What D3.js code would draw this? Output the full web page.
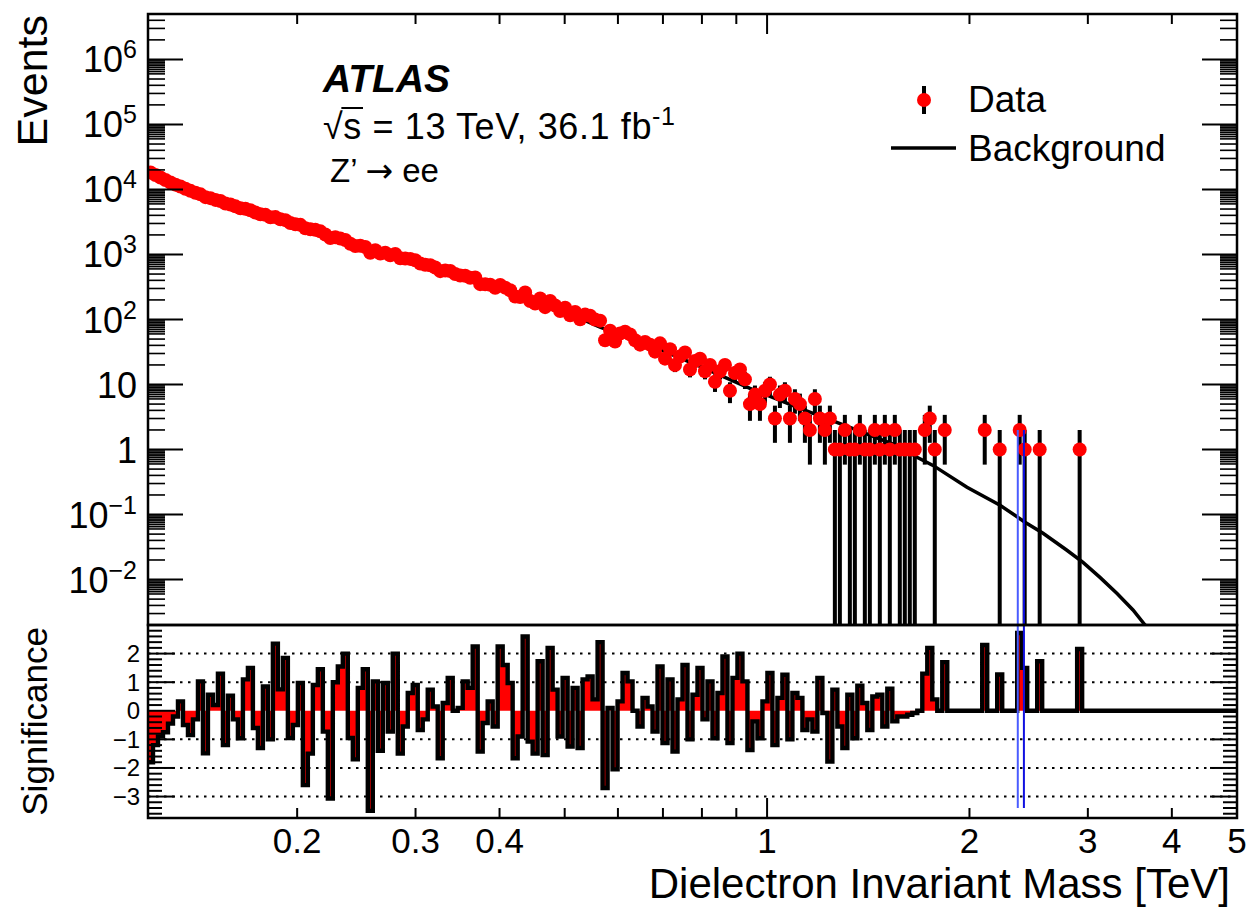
<!DOCTYPE html>
<html>
<head>
<meta charset="utf-8">
<script src="https://cdn.jsdelivr.net/npm/d3@7"></script>
<style>
  body { margin: 0; background: #fff; }
  svg text { font-family: "Liberation Sans", Arial, Helvetica, sans-serif; fill: #000; }
</style>
</head>
<body>
<svg id="chart" width="1250" height="908"></svg>
<script>
// binning: log-uniform bins between the axis limits
const massRangeTeV = [0.12, 5];
const nBins = 218;

// observed events per bin (bin 0 upwards, empty bins beyond the list)
const dataCounts = [
  18206, 16714, 15308, 14001, 12829, 11868, 11105, 10249, 9517, 8902,
  8414, 7619, 7348, 6917, 6635, 6076, 5870, 5498, 5151, 5032,
  4803, 4420, 4150, 4074, 3748, 3756, 3479, 3371, 3052, 2923,
  2856, 2536, 2435, 2394, 2268, 2027, 1795, 1842, 1754, 1670,
  1463, 1351, 1359, 1306, 1065, 1160, 1034, 1066, 972, 1017,
  873, 864, 856, 815, 728, 697, 684, 632, 554, 567,
  556, 501, 475, 470, 439, 444, 350, 349, 343, 308,
  339, 309, 282, 225, 222, 261, 193, 176, 210, 155,
  193, 164, 135, 152, 116, 131, 101, 119, 114, 100,
  96, 48, 67, 46, 61, 65, 59, 48, 41, 45,
  41, 32, 43, 25, 35, 20, 27, 31, 17, 23,
  25, 16, 20, 11, 16, 20, 8, 15, 17, 12,
  5, 7, 5, 8, 10, 3, 7, 8, 3, 6,
  5, 3, 2, 6, 3, 2, 3, 1, 1, 2,
  1, 1, 2, 1, 1, 2, 1, 2, 1, 2,
  1, 1, 1, 1, 0, 2, 3, 1, 0, 2,
  0, 0, 0, 0, 0, 0, 0, 2, 0, 0,
  1, 0, 0, 0, 2, 1, 0, 0, 1, 0,
  0, 0, 0, 0, 0, 0, 1
];

// background expectation
const bkgMassTeV = [0.12, 0.1434, 0.1702, 0.2020, 0.2397, 0.2845, 0.3376, 0.4007, 0.4755, 0.5643,
  0.6696, 0.7947, 0.9431, 1.1192, 1.3282, 1.5762, 1.6711, 1.7652, 1.9831, 2.2210,
  2.4193, 2.5733, 2.7924, 2.9508, 3.1272, 3.3156, 3.5016, 3.6492, 3.842];
const bkgEvents = [19000, 8300, 4730, 2820, 1510, 912, 530, 300, 166, 76,
  40, 19, 8.7, 4.3, 2.2, 1.1, 0.76, 0.57, 0.263, 0.139,
  0.076, 0.0515, 0.0282, 0.0184, 0.0108, 0.0061, 0.0034, 0.0020, 0.0011];

// significance per bin
const significance = [
  -1.8, -1.2, -0.9, -0.75, -0.45, -0.2, 0.33, -0.5, -0.85, -0.3,
  1.03, -1.49, 0.56, 0.2, 1.3, -1.2, 0.53, -0.3, -0.96, 1.1,
  1.5, -0.6, -1.3, 0.85, -1.0, 2.35, 0.75, 1.85, -0.95, -0.5,
  0.97, -2.6, -1.5, 0.9, 1.45, -0.73, -3.07, 1.0, 1.55, 2.0,
  -0.95, -1.7, 0.8, 1.45, -3.5, 1.03, -1.4, 0.97, -0.73, 2.0,
  -1.5, -0.55, 0.62, 0.9, -0.67, -0.3, 0.74, 0.15, -1.66, 0.27,
  1.15, 0, 0.1, 1.03, 0.8, 2.25, -1.43, -0.43, 0.33, -0.55,
  2.25, 1.6, 0.97, -1.66, -0.9, 2.6, -1.08, -1.5, 1.73, -1.55,
  2.2, 0.74, -0.9, 1.15, -1.25, 0.8, -1.3, 1.1, 1.2, 0.4,
  2.4, -2.7, 0.1, -2.05, 0.33, 1.32, 1.03, 0, -0.55, 0.45,
  0.15, -0.73, 1.55, -1.13, 1.1, -1.43, 0.4, 1.6, -1.0, 0.56,
  1.5, -0.3, 1.03, -0.96, 0.62, 1.9, -1.13, 1.15, 2.0, 1.03,
  -1.37, -0.37, -0.96, 0.33, 1.32, -1.2, 0.45, 1.26, -1.0, 0.62,
  0.45, -0.67, -0.3, -0.73, 1.15, -0.08, -1.78, 0.74, -0.55, -1.3,
  0.56, -0.96, 0.88, 0.27, -0.67, 0.5, 0.56, -0.55, 0.77, -0.37,
  -0.2, -0.2, -0.14, -0.08, 0, 1.3, 2.2, 0.4, 0, 1.7,
  0, 0, 0, 0, 0, 0, 0, 2.3, 0, 0,
  1.27, 0, 0, 0, 2.72, 1.5, 0, 0, 1.73, 0,
  0, 0, 0, 0, 0, 0, 2.16, 0, 0, 0,
  0, 0, 0, 0, 0, 0, 0, 0, 0, 0,
  0, 0, 0, 0, 0, 0, 0, 0, 0, 0,
  0, 0, 0, 0, 0, 0, 0, 0
];

// marked mass window (TeV) and how far it reaches
const windowTeV = [2.36, 2.41];
const windowTopEvents = 2;
const windowBottomSig = -3.4;

const xTickValues = [0.2, 0.3, 0.4, 0.5, 0.6, 0.7, 0.8, 0.9, 1, 2, 3, 4, 5];
const xTickLabels = { 0.2: "0.2", 0.3: "0.3", 0.4: "0.4", 1: "1", 2: "2", 3: "3", 4: "4", 5: "5" };
const yExponents = [-2, -1, 0, 1, 2, 3, 4, 5, 6];
const yMinorMantissas = [2, 3, 4, 5, 6, 6.5, 7, 7.5, 8, 8.5, 9, 9.5];
const sigTickValues = [-3, -2, -1, 0, 1, 2];
const sigGridValues = [-3, -2, -1, 1, 2];

const frame = { left: 148, right: 1237, top: 14, mid: 625, bottom: 818 };

const svg = d3.select("#chart");

const x = d3.scaleLog().domain(massRangeTeV).range([frame.left, frame.right]);
const y = d3.scaleLog().domain([0.002, 5e6]).range([frame.mid, frame.top]);
const ys = d3.scaleLinear().domain([-3.75, 3]).range([frame.bottom, frame.mid]);

const logStep = Math.log10(massRangeTeV[1] / massRangeTeV[0]) / nBins;
const edges = d3.range(nBins + 1).map(i => massRangeTeV[0] * Math.pow(10, i * logStep));

const defs = svg.append("defs");
defs.append("clipPath").attr("id", "clipTop")
  .append("rect")
  .attr("x", frame.left).attr("y", frame.top)
  .attr("width", frame.right - frame.left).attr("height", frame.mid - frame.top);
defs.append("clipPath").attr("id", "clipSig")
  .append("rect")
  .attr("x", frame.left).attr("y", frame.mid)
  .attr("width", frame.right - frame.left).attr("height", frame.bottom - frame.mid);

// ---- significance panel ----
const sigG = svg.append("g").attr("clip-path", "url(#clipSig)");

sigG.selectAll("line.grid")
  .data(sigGridValues)
  .enter()
  .append("line")
  .attr("class", "grid")
  .attr("x1", frame.left).attr("x2", frame.right)
  .attr("y1", d => ys(d)).attr("y2", d => ys(d))
  .attr("stroke", "#000")
  .attr("stroke-width", 2)
  .attr("stroke-dasharray", "2.5 5.5");

const sigPts = significance.map((s, i) => ({ m: edges[i], s }));
sigPts.push({ m: edges[nBins], s: significance[nBins - 1] });

sigG.append("path")
  .datum(sigPts)
  .attr("fill", "#ff0000")
  .attr("d", d3.area()
    .x(d => x(d.m))
    .y0(ys(0))
    .y1(d => ys(d.s))
    .curve(d3.curveStepAfter));

sigG.append("path")
  .datum(sigPts)
  .attr("fill", "none")
  .attr("stroke", "#000")
  .attr("stroke-width", 4.4)
  .attr("d", d3.line()
    .x(d => x(d.m))
    .y(d => ys(d.s))
    .curve(d3.curveStepAfter));

// ---- top panel ----
const topG = svg.append("g").attr("clip-path", "url(#clipTop)");

const bkg = bkgMassTeV.map((m, i) => ({ m, v: bkgEvents[i] }));
topG.append("path")
  .datum(bkg)
  .attr("fill", "none")
  .attr("stroke", "#000")
  .attr("stroke-width", 3.5)
  .attr("d", d3.line().x(d => x(d.m)).y(d => y(d.v)));

const points = dataCounts
  .map((n, i) => ({ m: Math.sqrt(edges[i] * edges[i + 1]), n }))
  .filter(d => d.n > 0);

topG.selectAll("line.err")
  .data(points)
  .enter()
  .append("line")
  .attr("class", "err")
  .attr("x1", d => x(d.m)).attr("x2", d => x(d.m))
  .attr("y1", d => y(d.n + Math.sqrt(d.n)))
  .attr("y2", d => d.n - Math.sqrt(d.n) > 0 ? y(d.n - Math.sqrt(d.n)) : frame.mid + 10)
  .attr("stroke", "#000")
  .attr("stroke-width", 4);

topG.selectAll("circle.pt")
  .data(points)
  .enter()
  .append("circle")
  .attr("class", "pt")
  .attr("cx", d => x(d.m))
  .attr("cy", d => y(d.n))
  .attr("r", 7)
  .attr("fill", "#ff0000");

// ---- mass window lines ----
svg.selectAll("line.win")
  .data(windowTeV)
  .enter()
  .append("line")
  .attr("class", "win")
  .attr("x1", d => x(d)).attr("x2", d => x(d))
  .attr("y1", y(windowTopEvents))
  .attr("y2", ys(windowBottomSig))
  .attr("stroke", (d, i) => i === 0 ? "#4a5cff" : "#1010e0")
  .attr("stroke-width", 2);

// ---- frames ----
[[frame.top, frame.mid], [frame.mid, frame.bottom]].forEach(([t, b]) => {
  svg.append("rect")
    .attr("x", frame.left).attr("y", t)
    .attr("width", frame.right - frame.left).attr("height", b - t)
    .attr("fill", "none")
    .attr("stroke", "#000")
    .attr("stroke-width", 2.5);
});

const ticks = svg.append("g").attr("stroke", "#000").attr("stroke-width", 2);

// x ticks (bottom of significance panel, top of events panel)
xTickValues.forEach(v => {
  const len = v === 1 ? 20 : 10;
  ticks.append("line")
    .attr("x1", x(v)).attr("x2", x(v))
    .attr("y1", frame.bottom).attr("y2", frame.bottom - len);
  ticks.append("line")
    .attr("x1", x(v)).attr("x2", x(v))
    .attr("y1", frame.top).attr("y2", frame.top + len);
});

// y ticks of the events panel
const yMajors = yExponents.map(e => Math.pow(10, e));
const yMinors = [];
d3.range(-3, 7).forEach(e => {
  yMinorMantissas.forEach(mt => {
    const v = mt * Math.pow(10, e);
    if (v >= 0.002 && v <= 5e6) yMinors.push(v);
  });
});
yMajors.forEach(v => {
  ticks.append("line").attr("x1", frame.left).attr("x2", frame.left + 35).attr("y1", y(v)).attr("y2", y(v));
  ticks.append("line").attr("x1", frame.right).attr("x2", frame.right - 35).attr("y1", y(v)).attr("y2", y(v));
});
yMinors.forEach(v => {
  ticks.append("line").attr("x1", frame.left).attr("x2", frame.left + 17).attr("y1", y(v)).attr("y2", y(v)).attr("stroke-width", 1.6);
  ticks.append("line").attr("x1", frame.right).attr("x2", frame.right - 17).attr("y1", y(v)).attr("y2", y(v)).attr("stroke-width", 1.6);
});

// y ticks of the significance panel
d3.range(-18, 15).map(k => k * 0.2).forEach(v => {
  const major = Math.abs(v - Math.round(v)) < 1e-6;
  const len = major ? 27 : 14;
  ticks.append("line").attr("x1", frame.left).attr("x2", frame.left + len).attr("y1", ys(v)).attr("y2", ys(v));
  ticks.append("line").attr("x1", frame.right).attr("x2", frame.right - len).attr("y1", ys(v)).attr("y2", ys(v));
});

// ---- tick labels ----
svg.selectAll("text.xlab")
  .data(xTickValues.filter(v => xTickLabels[v]))
  .enter()
  .append("text")
  .attr("class", "xlab")
  .attr("x", d => x(d))
  .attr("y", 853)
  .attr("text-anchor", "middle")
  .style("font-size", "35px")
  .text(d => xTickLabels[d]);

yExponents.forEach(e => {
  const t = svg.append("text")
    .attr("x", 137)
    .attr("y", y(Math.pow(10, e)) + 13)
    .attr("text-anchor", "end")
    .style("font-size", "36px");
  if (e === 0) { t.text("1"); return; }
  if (e === 1) { t.text("10"); return; }
  t.append("tspan").text("10");
  t.append("tspan")
    .attr("dy", -14)
    .style("font-size", "25px")
    .text(e < 0 ? "\u2212" + (-e) : String(e));
});

svg.selectAll("text.slab")
  .data(sigTickValues)
  .enter()
  .append("text")
  .attr("class", "slab")
  .attr("x", 140)
  .attr("y", d => ys(d) + 8.5)
  .attr("text-anchor", "end")
  .style("font-size", "24px")
  .text(d => d < 0 ? "\u2212" + (-d) : String(d));

// ---- axis titles ----
svg.append("text")
  .attr("transform", "translate(47,15) rotate(-90)")
  .attr("text-anchor", "end")
  .style("font-size", "43px")
  .text("Events");

svg.append("text")
  .attr("transform", "translate(47,627) rotate(-90)")
  .attr("text-anchor", "end")
  .style("font-size", "35px")
  .text("Significance");

svg.append("text")
  .attr("x", 1230)
  .attr("y", 898)
  .attr("text-anchor", "end")
  .style("font-size", "42px")
  .text("Dielectron Invariant Mass [TeV]");

// ---- ATLAS label ----
svg.append("text")
  .attr("x", 323).attr("y", 92)
  .style("font-size", "39px")
  .style("font-weight", "bold")
  .style("font-style", "italic")
  .text("ATLAS");

const energy = svg.append("text")
  .attr("x", 323).attr("y", 139)
  .style("font-size", "36px")
  .style("letter-spacing", "0.6px");
energy.append("tspan").text("\u221As = 13 TeV, 36.1 fb");
energy.append("tspan").attr("dy", -14).style("font-size", "25px").text("-1");
const en = energy.node();
const rootW = en.getSubStringLength(0, 1);
const sW = en.getSubStringLength(1, 1);
svg.append("line")
  .attr("x1", 323 + rootW - 2).attr("x2", 323 + rootW + sW + 1)
  .attr("y1", 108).attr("y2", 108)
  .attr("stroke", "#000").attr("stroke-width", 2);

const process = svg.append("text")
  .attr("x", 330).attr("y", 182)
  .style("font-size", "33px");
process.append("tspan").text("Z\u2019 ");
process.append("tspan").style("font-family", "'DejaVu Sans'").text("\u2192");
process.append("tspan").text(" ee");

// ---- legend ----
const legend = svg.append("g");
legend.append("line")
  .attr("x1", 924).attr("x2", 924).attr("y1", 86).attr("y2", 114)
  .attr("stroke", "#000").attr("stroke-width", 4);
legend.append("circle")
  .attr("cx", 924).attr("cy", 100).attr("r", 7).attr("fill", "#ff0000");
legend.append("text")
  .attr("x", 968).attr("y", 112)
  .style("font-size", "37px")
  .text("Data");
legend.append("line")
  .attr("x1", 891).attr("x2", 956).attr("y1", 148).attr("y2", 148)
  .attr("stroke", "#000").attr("stroke-width", 3.5);
legend.append("text")
  .attr("x", 968).attr("y", 161)
  .style("font-size", "37px")
  .text("Background");
</script>
</body>
</html>
